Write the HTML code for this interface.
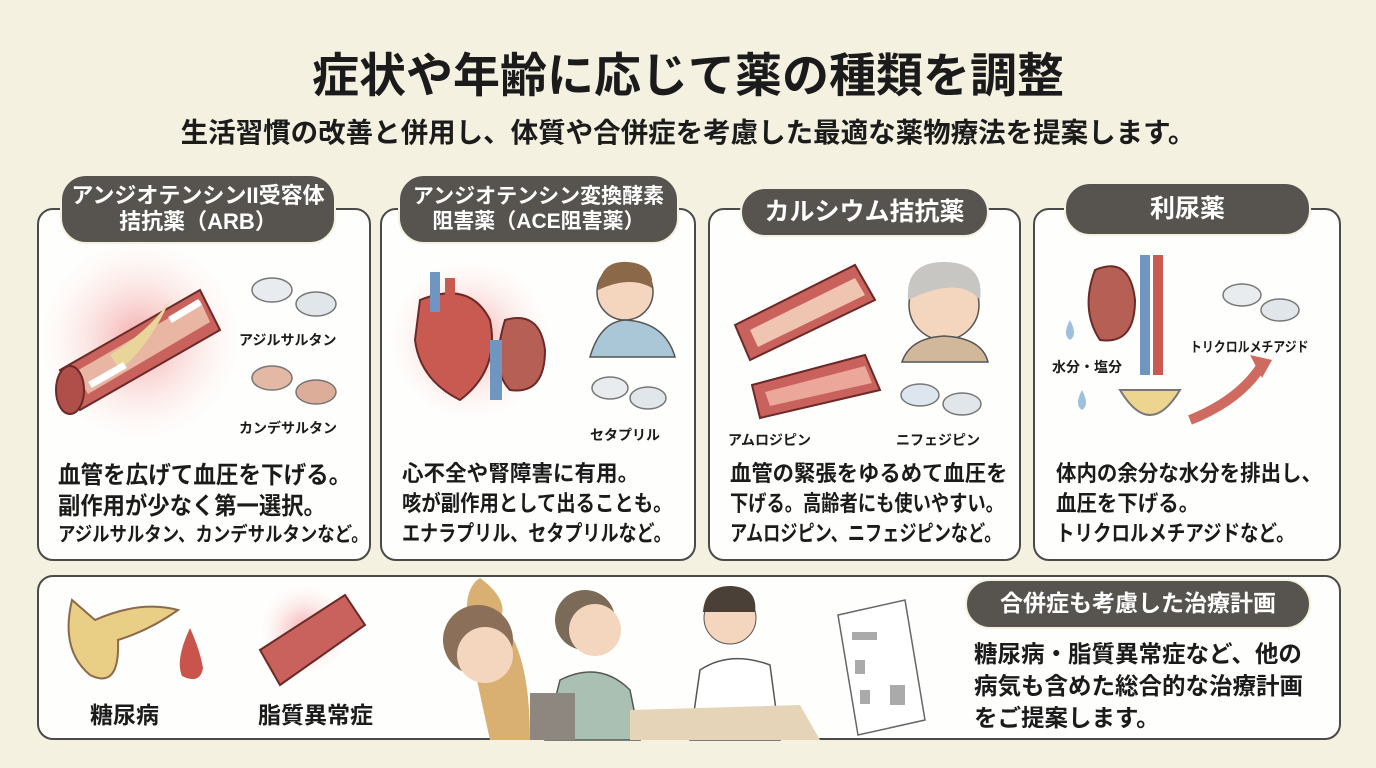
<!DOCTYPE html>
<html><head><meta charset="utf-8"><style>
*{margin:0;padding:0;box-sizing:border-box}
body{width:1376px;height:768px;background:#f4f1e1;font-family:"Liberation Sans","Noto Sans CJK JP",sans-serif;position:relative;overflow:hidden;color:#1b1b1b}
.a{position:absolute}
.card{position:absolute;background:#fefefc;border:2.5px solid #4a4a46;border-radius:16px}
.pill{position:absolute;background:#57544f;color:#fff;border-radius:26px;text-align:center;font-weight:bold;display:flex;align-items:center;justify-content:center;line-height:1.2;border:2px solid #f4f1e1}
.t{position:absolute;font-weight:bold;white-space:nowrap;transform-origin:0 0}
.lb{font-size:14px;font-weight:bold;position:absolute;white-space:nowrap}
</style></head><body>
<div class="t" style="left:0;width:1376px;text-align:center;top:37px;font-size:47px">症状や年齢に応じて薬の種類を調整</div>
<div class="t" style="left:0;width:1376px;text-align:center;top:110px;font-size:27.5px">生活習慣の改善と併用し、体質や合併症を考慮した最適な薬物療法を提案します。</div>

<div class="card" style="left:37px;top:208px;width:334px;height:353px"></div>
<div class="card" style="left:380px;top:208px;width:316px;height:353px"></div>
<div class="card" style="left:708px;top:208px;width:313px;height:353px"></div>
<div class="card" style="left:1033px;top:208px;width:308px;height:353px"></div>
<div class="card" style="left:37px;top:575px;width:1304px;height:165px"></div>

<div class="pill" style="left:60px;top:174px;width:276px;height:70px;font-size:22px">アンジオテンシンII受容体<br>拮抗薬（ARB）</div>
<div class="pill" style="left:398px;top:174px;width:281px;height:70px;font-size:21px">アンジオテンシン変換酵素<br>阻害薬（ACE阻害薬）</div>
<div class="pill" style="left:740px;top:187px;width:249px;height:50px;font-size:25px">カルシウム拮抗薬</div>
<div class="pill" style="left:1064px;top:182px;width:247px;height:54px;font-size:25px">利尿薬</div>
<div class="pill" style="left:965px;top:579px;width:346px;height:50px;font-size:23px">合併症も考慮した治療計画</div>

<svg class="a" style="left:0;top:0" width="1376" height="768">
<defs><radialGradient id="g"><stop offset="0" stop-color="#f3a8a8"/><stop offset="1" stop-color="#fde8e6" stop-opacity="0"/></radialGradient></defs>
<circle cx="140" cy="340" r="100" fill="url(#g)"/>
<path d="M60 370 L200 290 L220 330 L80 410 Z" fill="#c9615c" stroke="#6b2a28" stroke-width="2"/>
<path d="M75 372 L200 300 L210 322 L88 394 Z" fill="#e9b6a4"/>
<path d="M110 355 Q150 330 170 300 Q150 345 120 370Z" fill="#e8d59a"/>
<ellipse cx="70" cy="390" rx="14" ry="24" fill="#b04e4a" stroke="#6b2a28" stroke-width="2"/>
<path d="M90 385 L125 365" stroke="#fff" stroke-width="7"/><path d="M170 320 L200 302" stroke="#fff" stroke-width="7"/>
<g stroke="#777" stroke-width="1.5"><ellipse cx="272" cy="290" rx="20" ry="12" fill="#e8ecee"/><ellipse cx="316" cy="304" rx="20" ry="12" fill="#e0e6ea"/>
<ellipse cx="272" cy="378" rx="20" ry="12" fill="#e3b9a6"/><ellipse cx="316" cy="392" rx="20" ry="12" fill="#dcae9a"/></g>
<circle cx="470" cy="340" r="80" fill="url(#g)"/>
<path d="M420 300 Q470 280 490 320 Q500 370 460 400 Q420 380 415 340Z" fill="#c95a52" stroke="#6b2a28" stroke-width="2"/>
<rect x="430" y="272" width="10" height="40" fill="#6f96c0"/><rect x="445" y="278" width="10" height="35" fill="#c95a52"/>
<path d="M505 320 Q540 310 545 350 Q545 395 510 390 Q490 370 505 320Z" fill="#b66055" stroke="#6b2a28" stroke-width="2"/>
<rect x="490" y="340" width="12" height="60" fill="#6f96c0"/>
<circle cx="625" cy="292" r="28" fill="#f4d6bf" stroke="#555" stroke-width="1.5"/><path d="M598 290 Q600 260 628 262 Q655 264 652 288 Q630 275 598 290Z" fill="#8b6848"/>
<path d="M590 357 Q600 322 625 320 Q665 322 675 357Z" fill="#a9c7d6" stroke="#555" stroke-width="1.5"/>
<g stroke="#777" stroke-width="1.5"><ellipse cx="610" cy="388" rx="18" ry="11" fill="#e8ecee"/><ellipse cx="648" cy="398" rx="18" ry="11" fill="#e0e6ea"/></g>
<path d="M735 325 L855 265 L875 300 L750 360Z" fill="#c9615c" stroke="#6b2a28" stroke-width="2"/>
<path d="M750 330 L855 278 L865 295 L758 347Z" fill="#efc4b0"/>
<path d="M752 385 L865 355 L880 390 L760 418Z" fill="#c9615c" stroke="#6b2a28" stroke-width="2"/>
<path d="M765 392 L865 366 L872 383 L770 406Z" fill="#eba79a"/>
<circle cx="944" cy="305" r="35" fill="#f4d6bf" stroke="#555" stroke-width="1.5"/><path d="M908 300 Q905 262 944 262 Q985 262 980 300 Q960 275 908 300Z" fill="#c8c6c2"/>
<path d="M902 362 Q910 338 944 336 Q982 338 988 362Z" fill="#d1b89b" stroke="#555" stroke-width="1.5"/>
<g stroke="#777" stroke-width="1.5"><ellipse cx="920" cy="395" rx="19" ry="11" fill="#dde6ee"/><ellipse cx="962" cy="404" rx="19" ry="11" fill="#e0e6ea"/></g>
<path d="M1095 270 Q1130 255 1135 300 Q1135 345 1100 340 Q1080 310 1095 270Z" fill="#b66055" stroke="#6b2a28" stroke-width="2"/>
<rect x="1140" y="255" width="10" height="120" fill="#6f96c0"/><rect x="1153" y="255" width="10" height="120" fill="#c95a52"/>
<path d="M1120 390 Q1150 440 1180 390Z" fill="#eed58f" stroke="#777" stroke-width="2"/>
<path d="M1070 320 Q1062 335 1070 340 Q1078 335 1070 320Z" fill="#9cc0de"/><path d="M1082 390 Q1074 405 1082 410 Q1090 405 1082 390Z" fill="#9cc0de"/>
<path d="M1190 420 Q1240 400 1262 365" stroke="#cf6a60" stroke-width="10" fill="none"/><path d="M1250 355 L1272 360 L1262 378Z" fill="#cf6a60"/>
<g stroke="#777" stroke-width="1.5"><ellipse cx="1242" cy="295" rx="19" ry="11" fill="#e8ecee"/><ellipse cx="1280" cy="310" rx="19" ry="11" fill="#e0e6ea"/></g>
<path d="M72 600 Q60 650 90 675 Q120 690 118 640 Q150 630 178 610 Q140 600 95 620Z" fill="#e9cf86" stroke="#8a6a4a" stroke-width="2"/>
<path d="M190 628 Q175 660 182 676 Q200 685 203 668 Q200 650 190 628Z" fill="#c9544c"/>
<circle cx="305" cy="630" r="45" fill="url(#g)"/>
<path d="M260 650 L345 595 L365 625 L280 685Z" fill="#c9615c" stroke="#6b2a28" stroke-width="2"/>
<path d="M490 740 Q470 650 470 640 Q460 590 480 578 Q510 600 500 620 Q530 650 530 740Z" fill="#d9b072"/>
<circle cx="478" cy="640" r="35" fill="#8b6f58"/><circle cx="485" cy="655" r="28" fill="#f4d6bf"/>
<path d="M545 740 L560 680 Q600 660 630 690 L640 740Z" fill="#a9c0b2" stroke="#555" stroke-width="1.5"/>
<circle cx="585" cy="620" r="30" fill="#7c6a58"/><circle cx="595" cy="630" r="26" fill="#f4d6bf"/>
<rect x="530" y="693" width="45" height="47" fill="#8d8780"/>
<path d="M690 740 L700 670 Q730 650 770 665 L780 740Z" fill="#fff" stroke="#555" stroke-width="1.5"/>
<circle cx="730" cy="618" r="26" fill="#f4d6bf" stroke="#555"/><path d="M703 612 Q705 585 732 586 Q758 588 755 612Z" fill="#4a4038"/>
<path d="M630 710 L800 705 L820 740 L630 740Z" fill="#e6d4b8"/>
<path d="M838 615 L905 600 L925 720 L858 735Z" fill="#fff" stroke="#666" stroke-width="1.5"/>
<g fill="#aaa"><rect x="852" y="632" width="25" height="8"/><rect x="855" y="660" width="10" height="14"/><rect x="860" y="690" width="10" height="14"/><rect x="890" y="685" width="15" height="20"/></g>
</svg>

<div class="lb" style="left:239px;top:330px">アジルサルタン</div>
<div class="lb" style="left:239px;top:418px">カンデサルタン</div>
<div class="lb" style="left:590px;top:425px">セタプリル</div>
<div class="lb" style="left:728px;top:430px">アムロジピン</div>
<div class="lb" style="left:896px;top:430px">ニフェジピン</div>
<div class="lb" style="left:1052px;top:357px">水分・塩分</div>
<div class="lb" style="left:1190px;top:337px;transform:scaleX(0.85);transform-origin:0 0">トリクロルメチアジド</div>

<div class="t" style="left:58px;top:455px;font-size:24px;transform:scaleX(0.94)">血管を広げて血圧を下げる。</div>
<div class="t" style="left:58px;top:486px;font-size:24px;transform:scaleX(0.93)">副作用が少なく第一選択。</div>
<div class="t" style="left:58px;top:518px;font-size:20px;transform:scaleX(0.87)">アジルサルタン、カンデサルタンなど。</div>
<div class="t" style="left:402px;top:456px;font-size:22px;transform:scaleX(0.98)">心不全や腎障害に有用。</div>
<div class="t" style="left:402px;top:486px;font-size:22px;transform:scaleX(0.88)">咳が副作用として出ることも。</div>
<div class="t" style="left:402px;top:516px;font-size:22px;transform:scaleX(0.82)">エナラプリル、セタプリルなど。</div>
<div class="t" style="left:730px;top:456px;font-size:22px;transform:scaleX(0.97)">血管の緊張をゆるめて血圧を</div>
<div class="t" style="left:730px;top:486px;font-size:22px;transform:scaleX(0.83)">下げる。高齢者にも使いやすい。</div>
<div class="t" style="left:730px;top:516px;font-size:22px;transform:scaleX(0.78)">アムロジピン、ニフェジピンなど。</div>
<div class="t" style="left:1056px;top:456px;font-size:22px;transform:scaleX(0.93)">体内の余分な水分を排出し、</div>
<div class="t" style="left:1056px;top:486px;font-size:22px;transform:scaleX(0.93)">血圧を下げる。</div>
<div class="t" style="left:1056px;top:516px;font-size:22px;transform:scaleX(0.84)">トリクロルメチアジドなど。</div>

<div class="t" style="left:90px;top:696px;font-size:23px">糖尿病</div>
<div class="t" style="left:258px;top:696px;font-size:23px">脂質異常症</div>
<div class="t" style="left:974px;top:638px;font-size:23.5px;line-height:32px">糖尿病・脂質異常症など、他の<br>病気も含めた総合的な治療計画<br>をご提案します。</div>
</body></html>
